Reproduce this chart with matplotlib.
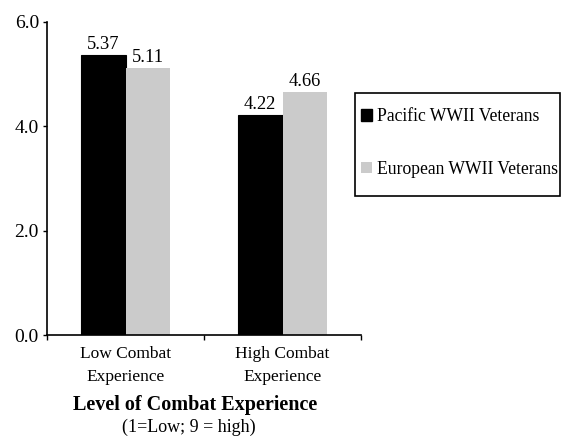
import matplotlib.pyplot as plt
from matplotlib.patches import Patch, Rectangle

plt.rcParams['font.family'] = ['Liberation Serif', 'DejaVu Serif']

categories = ["Low Combat\nExperience", "High Combat\nExperience"]
pacific = [5.37, 4.22]
european = [5.11, 4.66]
series_names = ["Pacific WWII Veterans", "European WWII Veterans"]
yticks = [0.0, 2.0, 4.0, 6.0]

W, H = 566, 437
fig = plt.figure(figsize=(W / 100, H / 100), dpi=100)
ax = fig.add_axes([47 / W, 102 / H, 314 / W, 313 / H])

x = list(range(len(categories)))
w = 0.286
b1 = ax.bar([i - w / 2 for i in x], pacific, width=w, color="black", edgecolor="black", linewidth=0.8)
b2 = ax.bar([i + w / 2 for i in x], european, width=w, color="#cbcbcb", linewidth=0)

for bars, vals in ((b1, pacific), (b2, european)):
    for r, v in zip(bars, vals):
        ax.text(r.get_x() + r.get_width() / 2, v + 0.04, f"{v:.2f}",
                ha="center", va="bottom", fontsize=13.3)

ax.set_xlim(-0.5, 1.5)
ax.set_ylim(0, 6)
ax.set_yticks(yticks)
ax.set_yticklabels([f"{t:.1f}" for t in yticks], fontsize=14)
ax.set_xticks(x)
ax.set_xticklabels(categories, fontsize=12.5, linespacing=1.55)
ax.tick_params(axis="x", which="major", length=0, pad=8)
ax.set_xticks([-0.5, 0.5, 1.5], minor=True)
ax.tick_params(axis="x", which="minor", length=3.6, width=1, direction="out")
ax.tick_params(axis="y", length=3, width=1, direction="out", pad=2.8)

for s in ("top", "right"):
    ax.spines[s].set_visible(False)
for s in ("left", "bottom"):
    ax.spines[s].set_linewidth(1.2)

fig.text(195 / W, 1 - 405 / H, "Level of Combat Experience",
         ha="center", va="center", fontsize=14.5, fontweight="bold")
fig.text(189 / W, 1 - 427 / H, "(1=Low; 9 = high)",
         ha="center", va="center", fontsize=13)

handles = [Patch(facecolor="black", edgecolor="black"),
           Patch(facecolor="#cbcbcb", edgecolor="none")]
leg = fig.legend(handles, series_names, loc="center left",
                 bbox_to_anchor=(361 / W, 1 - 143 / H), fontsize=12.7,
                 frameon=False, handlelength=0.62, handleheight=0.62,
                 handletextpad=0.3, labelspacing=2.0, borderpad=0,
                 borderaxespad=0)
fig.add_artist(Rectangle((355 / W, 1 - 196 / H), 205 / W, 103 / H,
                         transform=fig.transFigure, fill=False,
                         edgecolor="black", linewidth=1.2))

fig.savefig("out.png", dpi=100)
